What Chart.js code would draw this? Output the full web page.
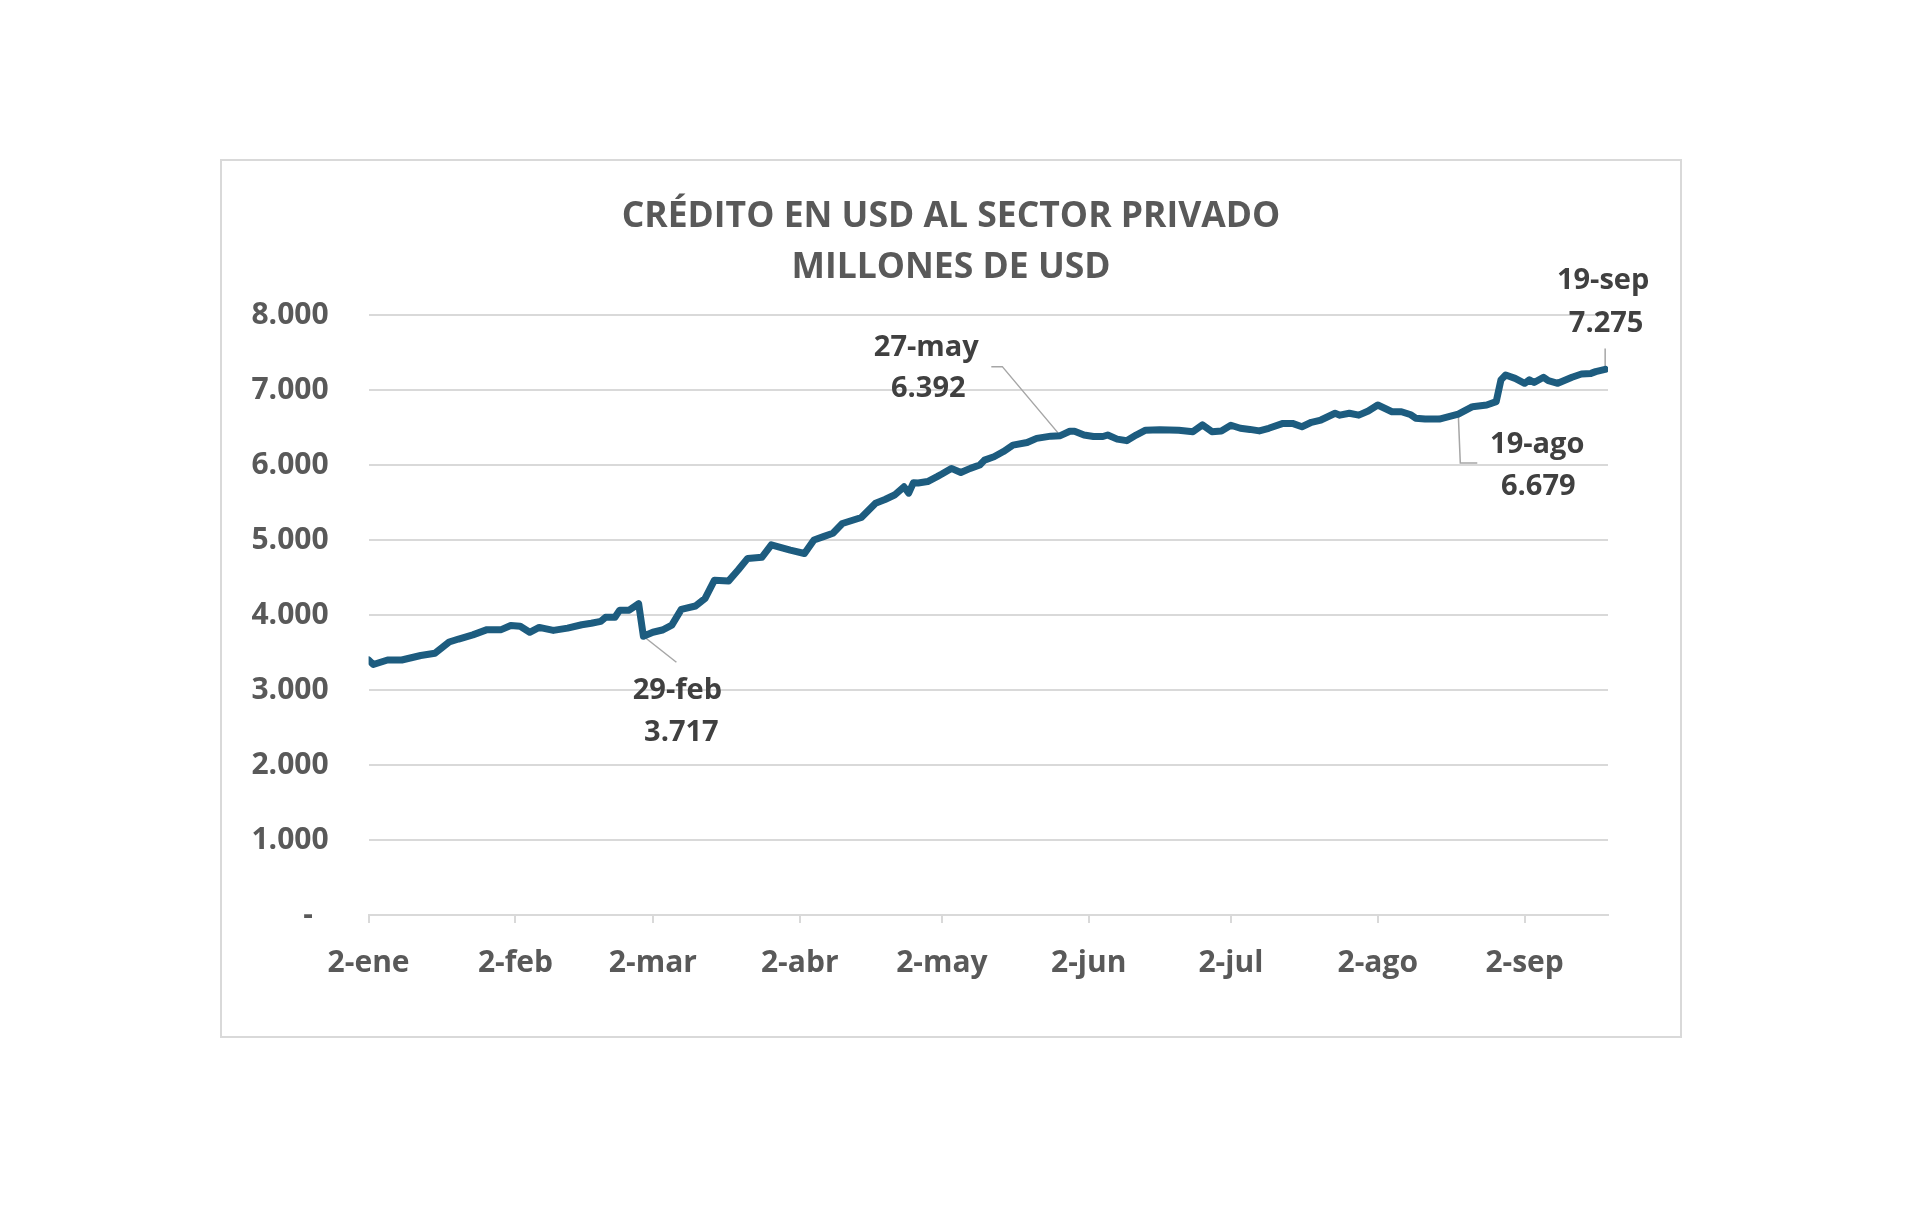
<!DOCTYPE html>
<html>
<head>
<meta charset="utf-8">
<script src="https://cdn.jsdelivr.net/npm/chart.js@4.4.1/dist/chart.umd.min.js"></script>
<style>
    body { margin: 0; background: #fff; }
    #marco { position: absolute; left: 220px; top: 159px; width: 1458px; height: 875px; border: 2px solid #d9d9d9; }
</style>
</head>
<body>
<div id="marco"><canvas id="credit-chart" width="1458" height="875"></canvas></div>
<script>
//#region Datos
// dias contados desde el 2-ene-2024
var dias = [0, 1, 4, 7, 11, 14, 17, 19, 22, 25, 28, 30, 32, 34, 36, 39, 42, 45, 47, 49, 50, 52, 53, 55, 57, 58,
    60, 62, 64, 66, 69, 71, 73, 76, 78, 80, 83, 85, 89, 92, 94, 96, 98, 100, 104, 107, 109, 111, 113, 114, 115,
    116, 118, 120, 121, 123, 125, 127, 129, 130, 132, 134, 136, 139, 141, 144, 146, 148, 149, 151, 153, 155,
    156, 158, 160, 162, 164, 167, 171, 174, 176, 178, 180, 182, 184, 186, 188, 190, 193, 195, 197, 199, 201,
    204, 205, 207, 209, 211, 213, 216, 218, 220, 221, 223, 226, 228, 230, 233, 236, 238, 239, 240, 242, 244,
    245, 246, 248, 249, 251, 254, 256, 258, 259, 261];

// millones de USD
var credito = [3400, 3340, 3400, 3400, 3460, 3490, 3640, 3680, 3735, 3805, 3805, 3860, 3850, 3770, 3835, 3795, 3825, 3870, 3890, 3915, 3970, 3970, 4065, 4065, 4150, 3717,
    3770, 3800, 3865, 4075, 4120, 4220, 4465, 4455, 4600, 4755, 4770, 4935, 4865, 4820, 5000, 5045, 5090, 5220, 5300, 5490, 5540, 5600, 5710, 5625, 5765,
    5760, 5780, 5845, 5880, 5955, 5900, 5955, 6000, 6065, 6110, 6180, 6265, 6300, 6355, 6385, 6392, 6450, 6450, 6400, 6380, 6380,
    6400, 6345, 6325, 6400, 6465, 6470, 6465, 6445, 6535, 6445, 6455, 6530, 6490, 6475, 6455, 6490, 6555, 6555, 6510, 6570, 6600,
    6690, 6665, 6690, 6665, 6720, 6800, 6710, 6710, 6670, 6625, 6613, 6613, 6645, 6679, 6778, 6800, 6845, 7135, 7200, 7155, 7090,
    7135, 7100, 7170, 7125, 7090, 7170, 7213, 7222, 7245, 7275];

var tickDias = [0, 31, 60, 91, 121, 152, 182, 213, 244];
var tickEtiquetas = ['2-ene', '2-feb', '2-mar', '2-abr', '2-may', '2-jun', '2-jul', '2-ago', '2-sep'];

var notaDias = [58, 146, 230, 261];
var notaFechas = ['29-feb', '27-may', '19-ago', '19-sep'];
//#endregion

// desplazamientos (px) de la guia y del texto respecto al punto
var notaLayout = [
    { guia: [[33, 26]], fecha: [34, 54], valor: [38, 96] },
    { guia: [[-58, -69], [-69, -69]], fecha: [-134, -88], valor: [-132, -47] },
    { guia: [[2, 49], [19, 49]], fecha: [79, 31], valor: [80, 73] },
    { guia: [[0, -21]], fecha: [-2, -89], valor: [1, -46] }
];

function miles(v) {
    return (v / 1000).toFixed(3);
}

function puntoNota(chart, i) {
    var idx = dias.indexOf(notaDias[i]);
    var v = credito[idx];
    return {
        v: v,
        x: chart.scales.x.getPixelForValue(notaDias[i]),
        y: chart.scales.y.getPixelForValue(v)
    };
}

var notasPlugin = {
    id: 'notas',
    beforeDatasetsDraw(chart) {
        var ctx = chart.ctx;
        ctx.save();
        ctx.strokeStyle = '#a6a6a6';
        ctx.lineWidth = 1.5;
        notaDias.forEach((d, i) => {
            var p = puntoNota(chart, i);
            ctx.beginPath();
            ctx.moveTo(p.x, p.y);
            notaLayout[i].guia.forEach((g) => ctx.lineTo(p.x + g[0], p.y + g[1]));
            ctx.stroke();
        });
        ctx.restore();
    },
    afterDatasetsDraw(chart) {
        var ctx = chart.ctx;
        ctx.save();
        ctx.fillStyle = '#404040';
        ctx.font = 'bold 29px "Open Sans"';
        ctx.textAlign = 'center';
        ctx.textBaseline = 'middle';
        notaDias.forEach((d, i) => {
            var p = puntoNota(chart, i);
            var lay = notaLayout[i];
            ctx.fillText(notaFechas[i], p.x + lay.fecha[0], p.y + lay.fecha[1]);
            ctx.fillText(miles(p.v), p.x + lay.valor[0], p.y + lay.valor[1]);
        });
        ctx.restore();
    }
};

Chart.defaults.font.family = "'Open Sans', sans-serif";

var creditChart = new Chart(document.querySelector('#credit-chart').getContext('2d'), {
    type: 'line',
    data: {
        datasets: [{
            data: dias.map((d, i) => ({ x: d, y: credito[i] })),
            borderColor: '#1d5c7f',
            borderWidth: 7,
            borderJoinStyle: 'round',
            borderCapStyle: 'round',
            pointRadius: 0,
            tension: 0,
            fill: false
        }]
    },
    options: {
        responsive: false,
        devicePixelRatio: 1,
        animation: false,
        layout: { padding: { left: 0, right: 0, top: 0, bottom: 33 } },
        plugins: {
            legend: { display: false },
            tooltip: { enabled: false },
            title: {
                display: true,
                text: ['CRÉDITO EN USD AL SECTOR PRIVADO', 'MILLONES DE USD'],
                color: '#595959',
                font: { size: 35.5, weight: 'bold', lineHeight: 1.44 },
                padding: { top: 30, bottom: 21.8 }
            }
        },
        scales: {
            x: {
                type: 'linear',
                min: 0,
                max: 261.6,
                afterBuildTicks: (s) => { s.ticks = tickDias.map((v) => ({ value: v })); },
                grid: { drawOnChartArea: false, drawTicks: true, tickLength: 8, color: '#d9d9d9', lineWidth: 2 },
                border: { color: '#d9d9d9', width: 2 },
                ticks: {
                    autoSkip: false,
                    maxRotation: 0,
                    padding: 22,
                    color: '#595959',
                    font: { size: 30, weight: 'bold' },
                    callback: (v, i) => tickEtiquetas[i]
                }
            },
            y: {
                min: 0,
                max: 8000,
                afterFit: (s) => { s.width = 146.6; },
                grid: { drawTicks: false, color: '#d9d9d9', lineWidth: 2 },
                border: { display: false },
                ticks: {
                    stepSize: 1000,
                    padding: 40,
                    color: '#595959',
                    font: { size: 30, weight: 'bold' },
                    callback: (v) => v === 0 ? '-  ' : miles(v)
                }
            },
            // eje vacio a la derecha para dejar el margen
            margen: {
                position: 'right',
                min: 0,
                max: 8000,
                afterFit: (s) => { s.width = 72; },
                grid: { display: false },
                border: { display: false },
                ticks: { display: false }
            }
        }
    },
    plugins: [notasPlugin]
});
</script>
</body>
</html>
